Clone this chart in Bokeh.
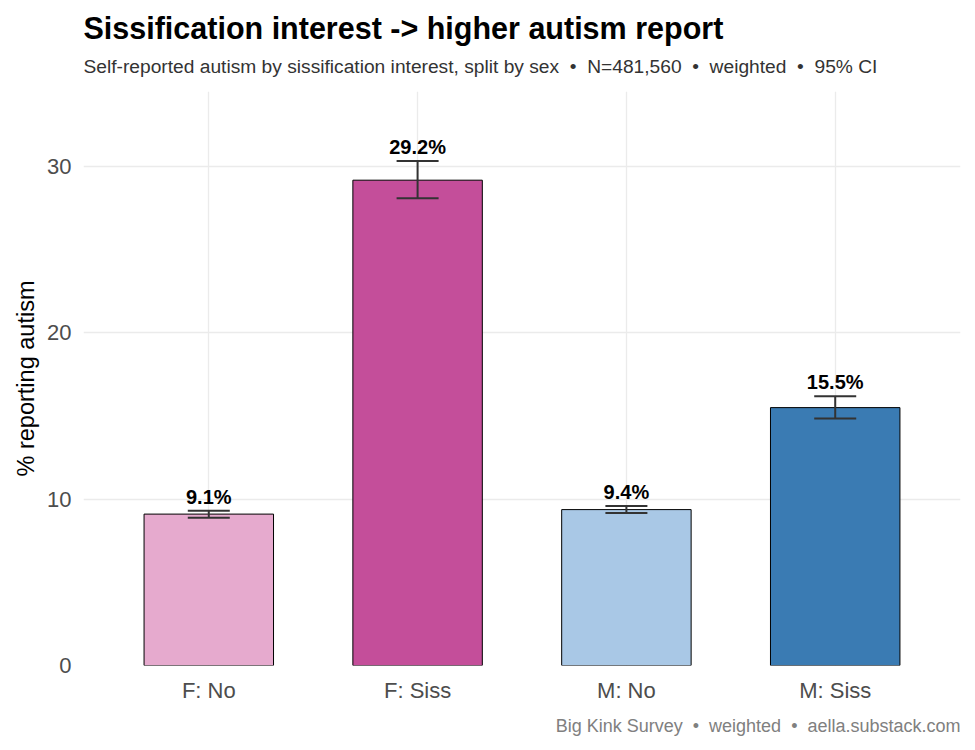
from bokeh.plotting import figure
from bokeh.models import ColumnDataSource, FactorRange, Range1d, Title, Whisker, TeeHead
from bokeh.embed import file_html
from bokeh.resources import INLINE
from bokeh.core.properties import value

# ---- data ----
categories = ["F: No", "F: Siss", "M: No", "M: Siss"]
pct = [9.1, 29.17, 9.37, 15.5]
ci_low = [8.88, 28.08, 9.17, 14.85]
ci_high = [9.30, 30.33, 9.58, 16.19]
colors = ["#E6AACE", "#C44E9A", "#A9C8E6", "#3A7BB3"]
y_ticks = [0, 10, 20, 30]

labels = [f"{v:.1f}%" for v in pct]

FONT = "Liberation Sans"
SEP = "\u00a0\u00a0\u2022\u00a0\u00a0"

src = ColumnDataSource(dict(cat=categories, pct=pct, lo=ci_low, hi=ci_high,
                            color=colors, label=labels))

p = figure(
    x_range=FactorRange(*categories, range_padding=0.1, range_padding_units="absolute"),
    y_range=Range1d(0, 34.5),
    width=975, height=750,
    output_backend="svg", toolbar_location=None,
    min_border_left=83, min_border_right=15, min_border_top=91, min_border_bottom=85,
    background_fill_color="white", border_fill_color="white",
)
p.outline_line_color = None

# titles
p.title.text = "Sissification interest -> higher autism report"
p.title.text_font = FONT
p.title.text_font_size = "30.5px"
p.title.text_font_style = "bold"
p.title.text_color = "black"
p.title.align = "left"
p.title.offset = 0
p.title.standoff = -12

sub = Title(text="Self-reported autism by sissification interest, split by sex" + SEP +
                 "N=481,560" + SEP + "weighted" + SEP + "95% CI",
            text_font=FONT, text_font_size="19.2px", text_font_style="normal",
            text_color="#333333", align="left", offset=0, standoff=30)
p.add_layout(sub, "above")

cap = Title(text="Big Kink Survey" + SEP + "weighted" + SEP + "aella.substack.com",
            text_font=FONT, text_font_size="18px", text_font_style="normal",
            text_color="#808080", align="right", offset=0, standoff=16)
p.add_layout(cap, "below")

# bars
p.vbar(x="cat", top="pct", bottom=0, width=0.62, source=src,
       fill_color="color", line_color="black", line_width=1)

# error bars
w = Whisker(base="cat", upper="hi", lower="lo", source=src, dimension="height",
            line_color="#333333", line_width=2, level="annotation",
            upper_head=TeeHead(size=42, line_color="#333333", line_width=2),
            lower_head=TeeHead(size=42, line_color="#333333", line_width=2))
p.add_layout(w)

# value labels
p.text(x="cat", y="hi", text="label", source=src, y_offset=-14,
       text_align="center", text_baseline="alphabetic",
       text_font=value(FONT), text_font_style="bold", text_font_size="20px",
       text_color="black")

# axes
for ax in (p.xaxis, p.yaxis):
    ax.axis_line_color = None
    ax.major_tick_line_color = None
    ax.minor_tick_line_color = None
    ax.major_tick_out = 0
    ax.major_tick_in = 0
    ax.major_label_text_font = FONT
    ax.major_label_text_font_size = "22px"
    ax.major_label_text_color = "#4D4D4D"
    ax.major_label_standoff = 12

p.yaxis.ticker = y_ticks
p.yaxis.axis_label = "% reporting autism"
p.yaxis.axis_label_text_font = FONT
p.yaxis.axis_label_text_font_size = "23.5px"
p.yaxis.axis_label_text_font_style = "normal"
p.yaxis.axis_label_text_color = "black"
p.yaxis.axis_label_standoff = 5

# grid
p.xgrid.grid_line_color = "#EBEBEB"
p.xgrid.grid_line_width = 1.3
p.ygrid.grid_line_color = "#EBEBEB"
p.ygrid.grid_line_width = 1.3
p.ygrid.minor_grid_line_color = None

open("out.html", "w").write(file_html(p, INLINE))
